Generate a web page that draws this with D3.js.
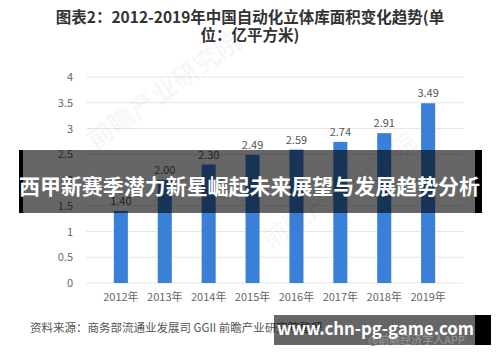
<!DOCTYPE html>
<html lang="zh-CN">
<head>
    <meta charset="utf-8">
    <title>Chart</title>
    <script src="https://d3js.org/d3.v7.min.js" charset="utf-8"></script>
    <style type="text/css">
        body { margin: 0; background: #fff; }
        text { font-family: 'Noto Sans CJK SC', 'Noto Sans', sans-serif; }
    </style>
</head>
<body>
    <script type="text/javascript">

        var years = ["2012年", "2013年", "2014年", "2015年", "2016年", "2017年", "2018年", "2019年"];
        var areas = [1.40, 2.00, 2.30, 2.49, 2.59, 2.74, 2.91, 3.49];
        var yTicks = [0, 0.5, 1, 1.5, 2, 2.5, 3, 3.5, 4];

        var width = 500, height = 362;
        var margin = { top: 77, left: 84, right: 35, bottom: 79 };
        var innerW = width - margin.left - margin.right,
            innerH = height - margin.top - margin.bottom;

        var svg = d3.select("body").append("svg")
            .attr("width", width)
            .attr("height", height);

        // title
        svg.append("text")
            .attr("x", 250).attr("y", 23)
            .attr("text-anchor", "middle")
            .attr("font-size", "15.5px").attr("font-weight", "bold")
            .attr("fill", "#333")
            .text("图表2：2012-2019年中国自动化立体库面积变化趋势(单");
        svg.append("text")
            .attr("x", 250).attr("y", 41)
            .attr("text-anchor", "middle")
            .attr("font-size", "15.5px").attr("font-weight", "bold")
            .attr("fill", "#333")
            .text("位：亿平方米)");

        var g = svg.append("g")
            .attr("transform", "translate(" + margin.left + "," + margin.top + ")");

        var x = d3.scaleBand()
            .domain(years)
            .range([0, innerW])
            .padding(0.68);
        var y = d3.scaleLinear()
            .domain([0, 4])
            .range([innerH, 0]);

        // grid
        g.selectAll(".grid")
            .data(yTicks)
            .enter().append("line")
            .attr("x1", 2).attr("x2", innerW - 2)
            .attr("y1", function (d) { return y(d); })
            .attr("y2", function (d) { return y(d); })
            .attr("stroke", "#e6e6e6")
            .attr("stroke-width", 1);

        // y axis
        var yAxis = g.append("g")
            .attr("transform", "translate(-8,0)")
            .call(d3.axisLeft(y).tickValues(yTicks).tickSize(0).tickFormat(d3.format("")));
        yAxis.select(".domain").remove();
        yAxis.selectAll("text")
            .attr("font-size", "11px").attr("fill", "#666");

        // faint watermark
        svg.append("text")
            .attr("transform", "translate(95,150) rotate(-35)")
            .attr("font-size", "26px").attr("font-weight", "bold")
            .attr("fill", "#000").attr("fill-opacity", 0.05)
            .text("前瞻产业研究院");
        svg.append("text")
            .attr("transform", "translate(270,250) rotate(-35)")
            .attr("font-size", "26px").attr("font-weight", "bold")
            .attr("fill", "#000").attr("fill-opacity", 0.04)
            .text("前瞻产业研究院");

        // bars
        g.selectAll(".bar")
            .data(areas)
            .enter().append("rect")
            .attr("class", "bar")
            .attr("x", function (d, i) { return x(years[i]); })
            .attr("y", function (d) { return y(d); })
            .attr("width", x.bandwidth())
            .attr("height", function (d) { return innerH - y(d); })
            .attr("fill", "#3b80d8");

        g.selectAll(".val")
            .data(areas)
            .enter().append("text")
            .attr("x", function (d, i) { return x(years[i]) + x.bandwidth() / 2; })
            .attr("y", function (d) { return y(d) - 6; })
            .attr("text-anchor", "middle")
            .attr("font-size", "11px").attr("fill", "#555")
            .text(function (d) { return d.toFixed(2); });

        // x axis
        var xAxis = g.append("g")
            .attr("transform", "translate(0," + innerH + ")")
            .call(d3.axisBottom(x).tickSize(0).tickPadding(10));
        xAxis.select(".domain").remove();
        xAxis.selectAll("text")
            .attr("font-size", "11px").attr("fill", "#666");

        // source
        svg.append("text")
            .attr("x", 30).attr("y", 332)
            .attr("font-size", "11.5px").attr("fill", "#555")
            .text("资料来源：商务部流通业发展司 GGII 前瞻产业研究院整理");

        // banner overlay
        svg.append("rect")
            .attr("x", 19).attr("y", 150).attr("width", 463).attr("height", 63)
            .attr("fill", "#000").attr("fill-opacity", 0.6);
        svg.append("rect")
            .attr("x", 19).attr("y", 150).attr("width", 4).attr("height", 63)
            .attr("fill", "#000");
        svg.append("rect")
            .attr("x", 475).attr("y", 150).attr("width", 7).attr("height", 63)
            .attr("fill", "#000");
        svg.append("text")
            .attr("x", 19).attr("y", 194)
            .attr("font-size", "21px").attr("font-weight", "bold")
            .attr("textLength", 461).attr("lengthAdjust", "spacingAndGlyphs")
            .attr("fill", "#fff")
            .text("西甲新赛季潜力新星崛起未来展望与发展趋势分析");

        // site watermark
        svg.append("rect")
            .attr("x", 274).attr("y", 315).attr("width", 217).attr("height", 30)
            .attr("fill", "#000").attr("fill-opacity", 0.6);
        svg.append("rect")
            .attr("x", 475).attr("y", 315).attr("width", 16).attr("height", 30)
            .attr("fill", "#000");
        svg.append("text")
            .attr("x", 465).attr("y", 344)
            .attr("text-anchor", "end")
            .attr("font-size", "11px").attr("fill", "#999")
            .text("@前瞻经济学人APP");
        svg.append("text")
            .attr("x", 277).attr("y", 335)
            .attr("font-size", "18px").attr("font-weight", "bold")
            .attr("textLength", 197).attr("lengthAdjust", "spacingAndGlyphs")
            .attr("font-family", "'DejaVu Sans', sans-serif")
            .attr("fill", "#fff")
            .text("www.chn-pg-game.com");

    </script>
</body>
</html>
